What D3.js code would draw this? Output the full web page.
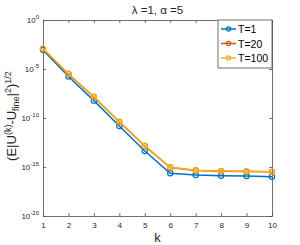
<!DOCTYPE html>
<html>
<head>
<meta charset="utf-8">
<script src="https://cdn.jsdelivr.net/npm/d3@7"></script>
<style>
	body { margin: 0; background: #fff; }
	svg text { font-family: "Liberation Sans", Arial, sans-serif; }
</style>
</head>
<body>
<div id="chart"></div>
<script>
// iterations k
const kValues = [1, 2, 3, 4, 5, 6, 7, 8, 9, 10];
// error values
const errT1 = [8.7e-4, 1.7e-6, 5.9e-9, 1.5e-11, 4.3e-14, 2.3e-16, 1.5e-16, 1.3e-16, 1.2e-16, 1.0e-16];
const errT20 = [1.1e-3, 3.1e-6, 1.4e-8, 4.0e-11, 1.4e-13, 8.8e-16, 4.4e-16, 3.7e-16, 3.5e-16, 3.2e-16];
const errT100 = [1.2e-3, 3.3e-6, 1.5e-8, 4.2e-11, 1.5e-13, 9.3e-16, 4.6e-16, 3.9e-16, 3.6e-16, 3.3e-16];
const seriesNames = ["T=1", "T=20", "T=100"];
const seriesColors = ["#0072BD", "#D95319", "#EDB120"];
const yTickExps = [0, -5, -10, -15, -20];

const width = 300, height = 245;
const margin = {top: 20, right: 28, bottom: 29, left: 43};
const w = width - margin.left - margin.right,
	h = height - margin.top - margin.bottom;

const svg = d3.select("#chart").append("svg")
	.attr("width", width)
	.attr("height", height);

const g = svg.append("g")
	.attr("transform", "translate(" + margin.left + "," + margin.top + ")");

let xScale = d3.scaleLinear().domain([1, 10]).range([0, w]);
let yScale = d3.scaleLog().domain([1e-20, 1]).range([h, 0]);

const axisColor = "#262626";
const tickColor = "#4d4d4d";

// x axis (bottom + top)
let xAxis = g.append("g")
	.attr("transform", "translate(0," + h + ")")
	.call(d3.axisBottom(xScale).tickValues(kValues).tickSizeInner(-3).tickSizeOuter(0).tickPadding(6).tickFormat(d3.format("d")));
g.append("g")
	.call(d3.axisTop(xScale).tickValues(kValues).tickSizeInner(-3).tickSizeOuter(0).tickFormat(""));

// y axis (left + right)
let yTicks = yTickExps.map(e => Math.pow(10, e));
let yAxis = g.append("g")
	.call(d3.axisLeft(yScale).tickValues(yTicks).tickSizeInner(-3).tickSizeOuter(0).tickFormat(""));
g.append("g")
	.attr("transform", "translate(" + w + ",0)")
	.call(d3.axisRight(yScale).tickValues(yTicks).tickSizeInner(-3).tickSizeOuter(0).tickFormat(""));

g.selectAll(".domain").attr("stroke", tickColor).attr("stroke-width", 0.8);
g.selectAll(".tick line").attr("stroke", tickColor).attr("stroke-width", 0.8);
xAxis.selectAll(".tick text").attr("fill", axisColor).attr("font-size", 8);

// y tick labels with superscripts
yTickExps.forEach(function (e) {
	let t = g.append("text")
		.attr("x", -4)
		.attr("y", yScale(Math.pow(10, e)) + 3)
		.attr("text-anchor", "end")
		.attr("fill", axisColor)
		.attr("font-size", 8);
	t.append("tspan").text("10");
	t.append("tspan").attr("dy", -4).attr("font-size", 6).text(e);
});

// lines + markers
const allSeries = [errT1, errT20, errT100];
let line = d3.line()
	.x((d, i) => xScale(kValues[i]))
	.y(d => yScale(d));

allSeries.forEach(function (data, s) {
	g.append("path")
		.datum(data)
		.attr("fill", "none")
		.attr("stroke", seriesColors[s])
		.attr("stroke-width", 1.5)
		.attr("d", line);
	g.selectAll(".m" + s)
		.data(data)
		.enter().append("circle")
		.attr("cx", (d, i) => xScale(kValues[i]))
		.attr("cy", d => yScale(d))
		.attr("r", 2.6)
		.attr("fill", "none")
		.attr("stroke", seriesColors[s])
		.attr("stroke-width", 1.2);
});

// legend
let leg = g.append("g").attr("transform", "translate(" + (w - 54) + ",0)");
leg.append("rect")
	.attr("width", 54).attr("height", 48)
	.attr("fill", "#fff")
	.attr("stroke", tickColor).attr("stroke-width", 0.8);
seriesNames.forEach(function (name, s) {
	let yy = 9 + s * 14.5;
	leg.append("line")
		.attr("x1", 3).attr("x2", 18).attr("y1", yy).attr("y2", yy)
		.attr("stroke", seriesColors[s]).attr("stroke-width", 1.5);
	leg.append("circle")
		.attr("cx", 10.5).attr("cy", yy).attr("r", 2.2)
		.attr("fill", "none").attr("stroke", seriesColors[s]).attr("stroke-width", 1.2);
	leg.append("text")
		.attr("x", 20).attr("y", yy + 4)
		.attr("font-size", 10.5)
		.attr("fill", "#000")
		.text(name);
});

// title
svg.append("text")
	.attr("x", margin.left + w / 2)
	.attr("y", 14)
	.attr("text-anchor", "middle")
	.attr("font-size", 11.5)
	.attr("fill", axisColor)
	.text("\u03bb =1, \u03b1 =5");

// x label
svg.append("text")
	.attr("x", margin.left + w / 2)
	.attr("y", 242)
	.attr("text-anchor", "middle")
	.attr("font-size", 13)
	.attr("fill", axisColor)
	.text("k");

// y label
let yl = svg.append("text")
	.attr("transform", "translate(16," + (margin.top + h / 2 - 2) + ") rotate(-90)")
	.attr("text-anchor", "middle")
	.attr("font-size", 13)
	.attr("fill", axisColor);
yl.append("tspan").text("(E|U");
yl.append("tspan").attr("dy", -5).attr("font-size", 9).text("(k)");
yl.append("tspan").attr("dy", 5).text("-U");
yl.append("tspan").attr("dy", 3).attr("font-size", 9).text("fine");
yl.append("tspan").attr("dy", -3).text("|");
yl.append("tspan").attr("dy", -5).attr("font-size", 9).text("2");
yl.append("tspan").attr("dy", 5).text(")");
yl.append("tspan").attr("dy", -5).attr("font-size", 9).text("1/2");
</script>
</body>
</html>
